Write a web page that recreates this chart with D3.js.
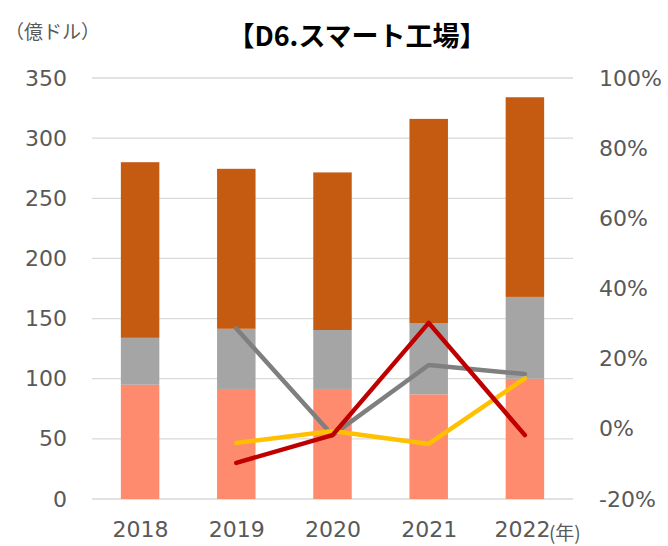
<!DOCTYPE html>
<html>
<head>
<meta charset="utf-8">
<script src="https://cdnjs.cloudflare.com/ajax/libs/d3/7.8.5/d3.min.js"></script>
<style>
    body { margin: 0; background: #fff; }
    #chart-area { width: 668px; height: 546px; }
    .axis text { font-family: "DejaVu Sans", Verdana, sans-serif; fill: #595959; }
</style>
</head>
<body>
<div id="chart-area"></div>
<script>

// data
let years = ["2018", "2019", "2020", "2021", "2022"];

// stacked bar segments (億ドル), bottom to top
let barBottom = [95, 91.5, 91.5, 87, 100];
let barMiddle = [39, 50, 49, 59, 68];
let barTop = [146, 133, 131, 170, 166];

// growth lines (%), right axis; 2018 has no value
let lineGray = [null, 28.6, -1.8, 18.2, 15.6];
let lineRed = [null, -9.7, -1.8, 30.2, -1.8];
let lineYellow = [null, -4.0, -0.6, -4.3, 14.4];

let leftTicks = [0, 50, 100, 150, 200, 250, 300, 350];
let rightTicks = [-20, 0, 20, 40, 60, 80, 100];


let margin = {top: 78, right: 95, bottom: 47, left: 92};
let width = 668 - margin.left - margin.right;
let height = 546 - margin.top - margin.bottom;

let svg = d3.select("#chart-area").append("svg")
    .attr("width", 668)
    .attr("height", 546)
    .append("g")
    .attr("transform", `translate(${margin.left}, ${margin.top})`);

// scales
let x = d3.scaleBand()
    .domain(years)
    .range([0, width])
    .paddingInner(0.6)
    .paddingOuter(0.3);

let xCenter = d3.scalePoint()
    .domain(years)
    .range([0, width])
    .padding(0.5);

let y = d3.scaleLinear()
    .domain([0, 350])
    .range([height, 0]);

let y2 = d3.scaleLinear()
    .domain([-20, 100])
    .range([height, 0]);

// gridlines
svg.append("g")
    .selectAll("line")
    .data(leftTicks)
    .enter().append("line")
    .attr("x1", 0)
    .attr("x2", width)
    .attr("y1", d => y(d))
    .attr("y2", d => y(d))
    .attr("stroke", "#d9d9d9")
    .attr("stroke-width", 1.3);

// stacked bars
let stackInput = years.map((yr, i) => ({year: yr, a: barBottom[i], b: barMiddle[i], c: barTop[i]}));
let stack = d3.stack().keys(["a", "b", "c"]);
let colors = {a: "#ff8b6e", b: "#a5a5a5", c: "#c55a11"};

svg.append("g")
    .selectAll("g")
    .data(stack(stackInput))
    .enter().append("g")
    .attr("fill", d => colors[d.key])
    .selectAll("rect")
    .data(d => d)
    .enter().append("rect")
    .attr("x", d => x(d.data.year))
    .attr("width", x.bandwidth())
    .attr("y", d => y(d[1]))
    .attr("height", d => y(d[0]) - y(d[1]));

// lines
let line = d3.line()
    .defined(d => d.v !== null)
    .x(d => xCenter(d.year))
    .y(d => y2(d.v));

[[lineGray, "#7f7f7f"], [lineYellow, "#ffc000"], [lineRed, "#c00000"]].forEach(([vals, color]) => {
    svg.append("path")
        .datum(years.map((yr, i) => ({year: yr, v: vals[i]})))
        .attr("fill", "none")
        .attr("stroke", color)
        .attr("stroke-width", 4.5)
        .attr("stroke-linecap", "round")
        .attr("stroke-linejoin", "round")
        .attr("d", line);
});

// axes
let yAxis = d3.axisLeft(y).tickValues(leftTicks).tickSize(0).tickPadding(25);
let y2Axis = d3.axisRight(y2).tickValues(rightTicks).tickSize(0).tickPadding(26)
    .tickFormat(d => d + "%");
let xAxis = d3.axisBottom(xCenter).tickSize(0).tickPadding(22);

svg.append("g").attr("class", "axis").call(yAxis)
    .call(g => g.select(".domain").remove())
    .selectAll("text").style("font-size", "22px");

svg.append("g").attr("class", "axis")
    .attr("transform", `translate(${width}, 0)`)
    .call(y2Axis)
    .call(g => g.select(".domain").remove())
    .selectAll("text").style("font-size", "22px");

let xg = svg.append("g").attr("class", "axis")
    .attr("transform", `translate(0, ${height})`)
    .call(xAxis)
    .call(g => g.select(".domain").remove());
xg.selectAll("text").style("font-size", "22px");
// last label sits a bit left to leave room for the unit
xg.selectAll(".tick").filter(d => d === "2022").select("text").attr("dx", -3);

// year unit
svg.append("text")
    .attr("x", xCenter("2022") + 24)
    .attr("y", height + 41)
    .attr("font-family", "'Noto Sans CJK JP', sans-serif")
    .attr("font-size", "19px")
    .attr("fill", "#595959")
    .text("(年)");

// titles
d3.select("#chart-area svg").append("text")
    .attr("x", 357)
    .attr("y", 46)
    .attr("text-anchor", "middle")
    .attr("font-family", "'Noto Sans CJK JP', sans-serif")
    .attr("font-weight", "bold")
    .attr("font-size", "27px")
    .attr("fill", "#000")
    .text("【D6.スマート工場】");

d3.select("#chart-area svg").append("text")
    .attr("x", 5)
    .attr("y", 39)
    .attr("font-family", "'Noto Sans CJK JP', sans-serif")
    .attr("font-size", "19px")
    .attr("fill", "#595959")
    .text("（億ドル）");

</script>
</body>
</html>
